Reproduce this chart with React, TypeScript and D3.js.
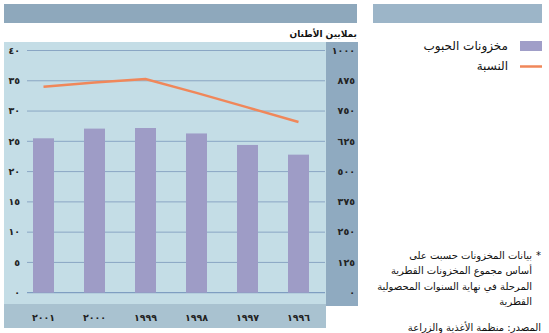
import React from "react";
import * as d3 from "d3";

const years = ["٢٠٠١", "٢٠٠٠", "١٩٩٩", "١٩٩٨", "١٩٩٧", "١٩٩٦"];
const stocks = [25.5, 27.1, 27.2, 26.3, 24.4, 22.8];
const ratio = [34.0, 34.7, 35.3, 33.0, 30.6, 28.2];
const leftTicks = [0, 5, 10, 15, 20, 25, 30, 35, 40];
const rightTicks = [0, 125, 250, 375, 500, 625, 750, 875, 1000];
const arabicDigits = ["٠", "١", "٢", "٣", "٤", "٥", "٦", "٧", "٨", "٩"];
const footnote = [
  "بيانات المخزونات حسبت على",
  "أساس مجموع المخزونات القطرية",
  "المرحلة في نهاية السنوات المحصولية",
  "القطرية",
];
const titleText = "بملايين الأطنان";
const legendBars = "مخزونات الحبوب";
const legendLine = "النسبة";
const sourceText = "المصدر: منظمة الأغذية والزراعة";

const toArabic = (n: number) =>
  String(n)
    .split("")
    .map((c) => arabicDigits[+c])
    .join("");

const FONT = "'DejaVu Sans', sans-serif";

export default function App() {
  const y = d3.scaleLinear().domain([0, 40]).range([292.7, 50.5]);
  const yR = d3.scaleLinear().domain([0, 1000]).range([292.7, 50.5]);
  const x = d3.scalePoint<string>().domain(years).range([43.5, 298.5]);
  const barW = 21;
  const line = d3
    .line<number>()
    .x((_, i) => x(years[i]) as number)
    .y((d) => y(d));

  return (
    <svg
      width={549}
      height={333}
      style={{ position: "absolute", left: 0, top: 0, background: "#fff" }}
      fontFamily={FONT}
    >
      <rect x={4} y={4} width={353} height={19} fill="#8ea8bc" />
      <rect x={373} y={4} width={169} height={19} fill="#9cb5c8" />
      <text x={357} y={34} dy="0.35em" textAnchor="end" fontSize={9} fontWeight="bold" fill="#111">
        {titleText}
      </text>
      <rect x={4} y={42} width={322} height={262} fill="#c4dde6" />
      <rect x={326} y={42} width={32} height={264} fill="#8faac0" />
      <rect x={4} y={304} width={322} height={24} fill="#a9c2d0" />

      {leftTicks.map((t) => (
        <g key={"g" + t}>
          <line
            x1={27}
            x2={325}
            y1={y(t)}
            y2={y(t)}
            stroke={t === 0 ? "#6f8fb8" : "#8aa6c4"}
            strokeWidth={1}
          />
          <text
            x={20}
            y={y(t)}
            dy="0.35em"
            textAnchor="end"
            fontSize={9.5}
            fontWeight="bold"
            fill="#222"
          >
            {toArabic(t)}
          </text>
        </g>
      ))}
      {rightTicks.map((t) => (
        <text
          key={"r" + t}
          x={355}
          y={yR(t)}
          dy="0.35em"
          textAnchor="end"
          fontSize={9.5}
          fontWeight="bold"
          fill="#222"
        >
          {toArabic(t)}
        </text>
      ))}

      {stocks.map((v, i) => (
        <rect
          key={"b" + i}
          x={(x(years[i]) as number) - barW / 2}
          y={y(v)}
          width={barW}
          height={y(0) - y(v)}
          fill="#9e9cc6"
        />
      ))}
      <path d={line(ratio) || ""} fill="none" stroke="#f0875a" strokeWidth={2.5} />

      {years.map((yr) => (
        <text
          key={"y" + yr}
          x={x(yr) as number}
          y={318}
          dy="0.35em"
          textAnchor="middle"
          fontSize={9.5}
          fontWeight="bold"
          fill="#222"
        >
          {yr}
        </text>
      ))}

      <rect x={520} y={41} width={22} height={10} fill="#a09ec8" />
      <text x={508} y={46} dy="0.35em" textAnchor="end" fontSize={12} fill="#111">
        {legendBars}
      </text>
      <line x1={520} x2={542} y1={66.5} y2={66.5} stroke="#f0875a" strokeWidth={2.5} />
      <text x={508} y={66} dy="0.35em" textAnchor="end" fontSize={12} fill="#111">
        {legendLine}
      </text>

      <text x={541} y={255} dy="0.35em" textAnchor="end" fontSize={10} fill="#111">
        *
      </text>
      {footnote.map((s, i) => (
        <text
          key={"f" + i}
          x={532}
          y={255 + i * 15.5}
          dy="0.35em"
          textAnchor="end"
          fontSize={10}
          fill="#111"
        >
          {s}
        </text>
      ))}
      <text x={541} y={327} dy="0.35em" textAnchor="end" fontSize={10} fill="#111">
        {sourceText}
      </text>
    </svg>
  );
}
